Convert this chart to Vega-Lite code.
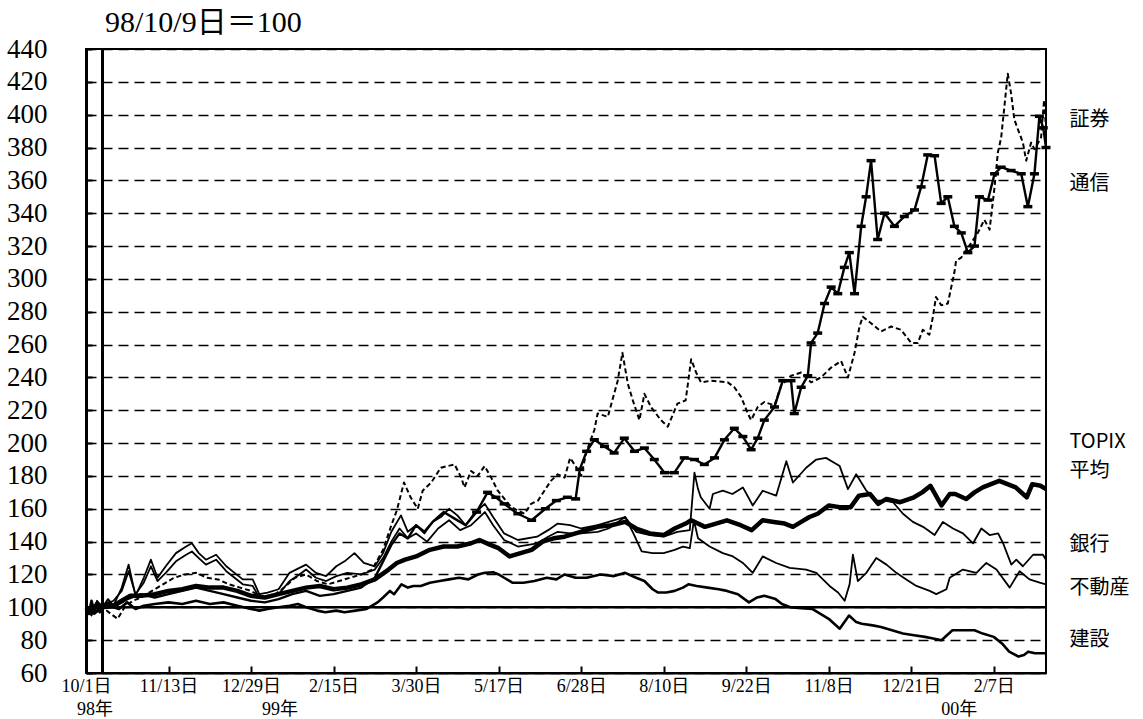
{
 "$schema": "https://vega.github.io/schema/vega-lite/v6.json",
 "width": 960, "height": 624,
 "autosize": "none",
 "padding": {"left": 86, "top": 49, "right": 97, "bottom": 46},
 "background": "white",
 "config": {"view": {"stroke": "black", "strokeWidth": 2}},
 "title": {"text": "98/10/9日＝100", "anchor": "start", "frame": "group", "dx": 19, "offset": -3, "fontSize": 30, "fontWeight": "normal", "font": "Liberation Serif, Noto Sans CJK JP", "color": "black"},
 "datasets": {
  "ref": [{"d": 6, "v": 100}],
  "labels": [{"t": "証券", "v": 397}, {"t": "通信", "v": 358}, {"t": "TOPIX", "v": 200.5}, {"t": "平均", "v": 183}, {"t": "銀行", "v": 138}, {"t": "不動産", "v": 112}, {"t": "建設", "v": 80}],
  "years": [{"t": "98年", "d": 3.3}, {"t": "99年", "d": 70.5}, {"t": "00年", "d": 317.5}],
  "series": [
{"s":"建設","d":0,"v":102},{"s":"建設","d":1,"v":96},{"s":"建設","d":2,"v":104},{"s":"建設","d":3,"v":98},{"s":"建設","d":4,"v":101},{"s":"建設","d":5,"v":97},{"s":"建設","d":6,"v":100},{"s":"建設","d":8,"v":103},{"s":"建設","d":10,"v":100},{"s":"建設","d":12,"v":99},{"s":"建設","d":15,"v":103},{"s":"建設","d":18,"v":99},{"s":"建設","d":21,"v":101},{"s":"建設","d":25,"v":102},{"s":"建設","d":30,"v":103},{"s":"建設","d":35,"v":102},{"s":"建設","d":40,"v":104},{"s":"建設","d":45,"v":102},{"s":"建設","d":50,"v":103},{"s":"建設","d":55,"v":101},{"s":"建設","d":60,"v":99},{"s":"建設","d":63,"v":98},{"s":"建設","d":66,"v":99},{"s":"建設","d":70,"v":100},{"s":"建設","d":74,"v":101},{"s":"建設","d":77,"v":102},{"s":"建設","d":80,"v":100},{"s":"建設","d":84,"v":98},{"s":"建設","d":87,"v":97},{"s":"建設","d":91,"v":98},{"s":"建設","d":94,"v":97},{"s":"建設","d":98,"v":98},{"s":"建設","d":102,"v":99},{"s":"建設","d":104,"v":101},{"s":"建設","d":106,"v":103},{"s":"建設","d":108,"v":106},{"s":"建設","d":110.5,"v":110},{"s":"建設","d":112,"v":108},{"s":"建設","d":114.7,"v":114},{"s":"建設","d":117,"v":112},{"s":"建設","d":119,"v":113},{"s":"建設","d":121.7,"v":113},{"s":"建設","d":125,"v":115},{"s":"建設","d":128.6,"v":116},{"s":"建設","d":132,"v":117},{"s":"建設","d":135.6,"v":118},{"s":"建設","d":139,"v":117},{"s":"建設","d":142.5,"v":120},{"s":"建設","d":145,"v":121},{"s":"建設","d":148,"v":121.4},{"s":"建設","d":150,"v":120},{"s":"建設","d":152,"v":118},{"s":"建設","d":155,"v":115},{"s":"建設","d":159,"v":115},{"s":"建設","d":163,"v":116},{"s":"建設","d":167.5,"v":118},{"s":"建設","d":171,"v":117},{"s":"建設","d":174,"v":120},{"s":"建設","d":178,"v":118},{"s":"建設","d":182,"v":118},{"s":"建設","d":187,"v":120},{"s":"建設","d":192,"v":119},{"s":"建設","d":196,"v":121},{"s":"建設","d":200,"v":118},{"s":"建設","d":203,"v":116},{"s":"建設","d":206,"v":111},{"s":"建設","d":208,"v":109},{"s":"建設","d":211,"v":109},{"s":"建設","d":214,"v":110},{"s":"建設","d":217,"v":112},{"s":"建設","d":219,"v":114},{"s":"建設","d":222,"v":113},{"s":"建設","d":226,"v":112},{"s":"建設","d":230,"v":111},{"s":"建設","d":233,"v":110},{"s":"建設","d":237,"v":108},{"s":"建設","d":241,"v":103},{"s":"建設","d":244,"v":106},{"s":"建設","d":246.6,"v":107},{"s":"建設","d":250.7,"v":105},{"s":"建設","d":253,"v":102},{"s":"建設","d":256,"v":100},{"s":"建設","d":260,"v":99.5},{"s":"建設","d":264,"v":99},{"s":"建設","d":267,"v":96},{"s":"建設","d":270,"v":93},{"s":"建設","d":274,"v":87},{"s":"建設","d":277.4,"v":95},{"s":"建設","d":280,"v":91},{"s":"建設","d":282,"v":90},{"s":"建設","d":286,"v":89},{"s":"建設","d":289,"v":88},{"s":"建設","d":293,"v":86},{"s":"建設","d":297,"v":84},{"s":"建設","d":301,"v":83},{"s":"建設","d":305,"v":82},{"s":"建設","d":308,"v":81},{"s":"建設","d":311,"v":80},{"s":"建設","d":313,"v":83},{"s":"建設","d":315,"v":86},{"s":"建設","d":319,"v":86},{"s":"建設","d":323,"v":86},{"s":"建設","d":326,"v":84},{"s":"建設","d":330,"v":82},{"s":"建設","d":333,"v":78},{"s":"建設","d":335.6,"v":73},{"s":"建設","d":339,"v":70},{"s":"建設","d":341,"v":71},{"s":"建設","d":342.5,"v":73},{"s":"建設","d":345,"v":72},{"s":"建設","d":349,"v":72},
{"s":"TOPIX","d":0,"v":100},{"s":"TOPIX","d":2,"v":97},{"s":"TOPIX","d":4,"v":102},{"s":"TOPIX","d":6,"v":100},{"s":"TOPIX","d":10,"v":101},{"s":"TOPIX","d":13,"v":104},{"s":"TOPIX","d":16,"v":107},{"s":"TOPIX","d":20,"v":107},{"s":"TOPIX","d":25,"v":108},{"s":"TOPIX","d":30,"v":110},{"s":"TOPIX","d":35,"v":111},{"s":"TOPIX","d":40,"v":113},{"s":"TOPIX","d":45,"v":112},{"s":"TOPIX","d":50,"v":112},{"s":"TOPIX","d":55,"v":110},{"s":"TOPIX","d":60,"v":107},{"s":"TOPIX","d":65,"v":106},{"s":"TOPIX","d":70,"v":108},{"s":"TOPIX","d":75,"v":110},{"s":"TOPIX","d":80,"v":112},{"s":"TOPIX","d":85,"v":113},{"s":"TOPIX","d":90,"v":111},{"s":"TOPIX","d":95,"v":112},{"s":"TOPIX","d":100,"v":114},{"s":"TOPIX","d":105,"v":117},{"s":"TOPIX","d":110,"v":123},{"s":"TOPIX","d":113,"v":127},{"s":"TOPIX","d":116,"v":129},{"s":"TOPIX","d":120,"v":131},{"s":"TOPIX","d":125,"v":135},{"s":"TOPIX","d":130,"v":137},{"s":"TOPIX","d":135,"v":137},{"s":"TOPIX","d":140,"v":139},{"s":"TOPIX","d":143,"v":141},{"s":"TOPIX","d":147,"v":138},{"s":"TOPIX","d":150,"v":136},{"s":"TOPIX","d":154,"v":131},{"s":"TOPIX","d":158,"v":133},{"s":"TOPIX","d":162,"v":135},{"s":"TOPIX","d":166,"v":140},{"s":"TOPIX","d":170,"v":142},{"s":"TOPIX","d":174,"v":143},{"s":"TOPIX","d":178,"v":145},{"s":"TOPIX","d":182,"v":147},{"s":"TOPIX","d":186,"v":149},{"s":"TOPIX","d":191,"v":150},{"s":"TOPIX","d":196,"v":152},{"s":"TOPIX","d":200,"v":148},{"s":"TOPIX","d":205,"v":145},{"s":"TOPIX","d":210,"v":144},{"s":"TOPIX","d":214,"v":148},{"s":"TOPIX","d":218,"v":151},{"s":"TOPIX","d":220,"v":153},{"s":"TOPIX","d":225,"v":149},{"s":"TOPIX","d":229,"v":151},{"s":"TOPIX","d":233,"v":153},{"s":"TOPIX","d":238,"v":150},{"s":"TOPIX","d":242,"v":147},{"s":"TOPIX","d":246,"v":153},{"s":"TOPIX","d":250,"v":152},{"s":"TOPIX","d":254,"v":151},{"s":"TOPIX","d":257,"v":149},{"s":"TOPIX","d":260,"v":152},{"s":"TOPIX","d":263,"v":155},{"s":"TOPIX","d":266,"v":157},{"s":"TOPIX","d":270,"v":162},{"s":"TOPIX","d":274,"v":161},{"s":"TOPIX","d":278,"v":161},{"s":"TOPIX","d":281,"v":168},{"s":"TOPIX","d":285,"v":169},{"s":"TOPIX","d":288,"v":163},{"s":"TOPIX","d":291,"v":166},{"s":"TOPIX","d":296,"v":164},{"s":"TOPIX","d":301,"v":167},{"s":"TOPIX","d":304,"v":170},{"s":"TOPIX","d":307,"v":174},{"s":"TOPIX","d":309,"v":168},{"s":"TOPIX","d":311,"v":162},{"s":"TOPIX","d":314,"v":169},{"s":"TOPIX","d":316,"v":169},{"s":"TOPIX","d":320,"v":166},{"s":"TOPIX","d":323,"v":170},{"s":"TOPIX","d":326,"v":173},{"s":"TOPIX","d":329,"v":175},{"s":"TOPIX","d":332,"v":177},{"s":"TOPIX","d":335,"v":175},{"s":"TOPIX","d":338,"v":173},{"s":"TOPIX","d":342,"v":167},{"s":"TOPIX","d":344,"v":175},{"s":"TOPIX","d":347,"v":174},{"s":"TOPIX","d":349,"v":172},
{"s":"銀行","d":0,"v":100},{"s":"銀行","d":2,"v":95},{"s":"銀行","d":4,"v":104},{"s":"銀行","d":6,"v":100},{"s":"銀行","d":8,"v":105},{"s":"銀行","d":10,"v":101},{"s":"銀行","d":13,"v":112},{"s":"銀行","d":15.5,"v":126},{"s":"銀行","d":18,"v":107},{"s":"銀行","d":21,"v":118},{"s":"銀行","d":23.6,"v":129},{"s":"銀行","d":26,"v":118},{"s":"銀行","d":29,"v":125},{"s":"銀行","d":32.7,"v":133},{"s":"銀行","d":36.4,"v":137},{"s":"銀行","d":38.5,"v":139},{"s":"銀行","d":41,"v":133},{"s":"銀行","d":43.6,"v":129},{"s":"銀行","d":47.3,"v":132},{"s":"銀行","d":51,"v":125},{"s":"銀行","d":54,"v":121},{"s":"銀行","d":57,"v":117},{"s":"銀行","d":60.6,"v":117},{"s":"銀行","d":63,"v":108},{"s":"銀行","d":66,"v":109},{"s":"銀行","d":70,"v":111},{"s":"銀行","d":74,"v":121},{"s":"銀行","d":77.6,"v":124},{"s":"銀行","d":80,"v":126},{"s":"銀行","d":83.6,"v":121},{"s":"銀行","d":87.3,"v":119},{"s":"銀行","d":91,"v":125},{"s":"銀行","d":94,"v":128},{"s":"銀行","d":97.6,"v":133},{"s":"銀行","d":101,"v":127},{"s":"銀行","d":105,"v":125},{"s":"銀行","d":108,"v":133},{"s":"銀行","d":111,"v":146},{"s":"銀行","d":114.5,"v":156},{"s":"銀行","d":117,"v":146},{"s":"銀行","d":120,"v":150},{"s":"銀行","d":123,"v":145},{"s":"銀行","d":126,"v":152},{"s":"銀行","d":129,"v":155},{"s":"銀行","d":132,"v":160},{"s":"銀行","d":135,"v":156},{"s":"銀行","d":138,"v":150},{"s":"銀行","d":141,"v":157},{"s":"銀行","d":145,"v":163},{"s":"銀行","d":148,"v":155},{"s":"銀行","d":152,"v":145},{"s":"銀行","d":157,"v":141},{"s":"銀行","d":164,"v":143},{"s":"銀行","d":168,"v":147},{"s":"銀行","d":171.5,"v":151},{"s":"銀行","d":176,"v":150},{"s":"銀行","d":180,"v":148},{"s":"銀行","d":186,"v":150},{"s":"銀行","d":190,"v":152},{"s":"銀行","d":196,"v":155},{"s":"銀行","d":200,"v":146},{"s":"銀行","d":205,"v":144},{"s":"銀行","d":210,"v":143},{"s":"銀行","d":215,"v":146},{"s":"銀行","d":219.5,"v":147},{"s":"銀行","d":221.2,"v":182},{"s":"銀行","d":222.5,"v":172},{"s":"銀行","d":223.5,"v":167},{"s":"銀行","d":226.7,"v":160},{"s":"銀行","d":227.9,"v":169},{"s":"銀行","d":231.5,"v":171},{"s":"銀行","d":235,"v":169},{"s":"銀行","d":238.8,"v":173},{"s":"銀行","d":242.4,"v":162},{"s":"銀行","d":246,"v":171},{"s":"銀行","d":250.9,"v":168},{"s":"銀行","d":254.6,"v":189},{"s":"銀行","d":257,"v":176},{"s":"銀行","d":261.8,"v":185},{"s":"銀行","d":265.5,"v":190},{"s":"銀行","d":269,"v":191},{"s":"銀行","d":272,"v":188},{"s":"銀行","d":274,"v":186},{"s":"銀行","d":277,"v":172},{"s":"銀行","d":280,"v":181},{"s":"銀行","d":283.7,"v":171},{"s":"銀行","d":287.3,"v":165},{"s":"銀行","d":290,"v":165},{"s":"銀行","d":293.4,"v":164},{"s":"銀行","d":297,"v":157},{"s":"銀行","d":300.6,"v":152},{"s":"銀行","d":304.3,"v":149},{"s":"銀行","d":308.5,"v":144},{"s":"銀行","d":311.5,"v":152},{"s":"銀行","d":315.2,"v":148},{"s":"銀行","d":318.8,"v":145},{"s":"銀行","d":322.5,"v":139},{"s":"銀行","d":325.5,"v":148},{"s":"銀行","d":328.5,"v":144},{"s":"銀行","d":331.6,"v":145},{"s":"銀行","d":333.4,"v":139},{"s":"銀行","d":336.4,"v":126},{"s":"銀行","d":338.2,"v":129},{"s":"銀行","d":340.6,"v":125},{"s":"銀行","d":344.3,"v":132},{"s":"銀行","d":347.9,"v":132},{"s":"銀行","d":349,"v":129},
{"s":"不動産","d":0,"v":100},{"s":"不動産","d":3,"v":97},{"s":"不動産","d":6,"v":101},{"s":"不動産","d":10,"v":104},{"s":"不動産","d":13,"v":110},{"s":"不動産","d":15.5,"v":122},{"s":"不動産","d":18,"v":108},{"s":"不動産","d":21,"v":115},{"s":"不動産","d":23.6,"v":125},{"s":"不動産","d":26,"v":116},{"s":"不動産","d":29,"v":121},{"s":"不動産","d":32.7,"v":128},{"s":"不動産","d":36.4,"v":132},{"s":"不動産","d":38.5,"v":134},{"s":"不動産","d":41,"v":130},{"s":"不動産","d":43.6,"v":126},{"s":"不動産","d":47.3,"v":129},{"s":"不動産","d":51,"v":122},{"s":"不動産","d":54,"v":118},{"s":"不動産","d":57,"v":114},{"s":"不動産","d":60.6,"v":113},{"s":"不動産","d":63,"v":106},{"s":"不動産","d":66,"v":106},{"s":"不動産","d":70,"v":108},{"s":"不動産","d":74,"v":116},{"s":"不動産","d":77.6,"v":120},{"s":"不動産","d":80,"v":123},{"s":"不動産","d":83.6,"v":118},{"s":"不動産","d":87.3,"v":116},{"s":"不動産","d":91,"v":119},{"s":"不動産","d":95,"v":121},{"s":"不動産","d":100,"v":120},{"s":"不動産","d":105,"v":123},{"s":"不動産","d":108,"v":130},{"s":"不動産","d":111,"v":140},{"s":"不動産","d":114,"v":148},{"s":"不動産","d":117,"v":142},{"s":"不動産","d":120,"v":145},{"s":"不動産","d":124,"v":140},{"s":"不動産","d":128,"v":148},{"s":"不動産","d":132,"v":153},{"s":"不動産","d":136,"v":147},{"s":"不動産","d":140,"v":150},{"s":"不動産","d":145,"v":158},{"s":"不動産","d":148,"v":150},{"s":"不動産","d":152,"v":141},{"s":"不動産","d":157,"v":137},{"s":"不動産","d":164,"v":139},{"s":"不動産","d":168,"v":143},{"s":"不動産","d":171.5,"v":146},{"s":"不動産","d":176,"v":145},{"s":"不動産","d":180,"v":145},{"s":"不動産","d":186,"v":146},{"s":"不動産","d":190,"v":148},{"s":"不動産","d":196,"v":155},{"s":"不動産","d":199,"v":145},{"s":"不動産","d":202,"v":134},{"s":"不動産","d":206,"v":133},{"s":"不動産","d":210,"v":133},{"s":"不動産","d":214,"v":135},{"s":"不動産","d":217,"v":137},{"s":"不動産","d":219.5,"v":136},{"s":"不動産","d":221,"v":153},{"s":"不動産","d":222.5,"v":142},{"s":"不動産","d":226.7,"v":137},{"s":"不動産","d":231.5,"v":133},{"s":"不動産","d":235.2,"v":131},{"s":"不動産","d":238.8,"v":127},{"s":"不動産","d":242.4,"v":121},{"s":"不動産","d":246,"v":131},{"s":"不動産","d":250.9,"v":127},{"s":"不動産","d":255.8,"v":124},{"s":"不動産","d":261.8,"v":123},{"s":"不動産","d":265.5,"v":121},{"s":"不動産","d":270.3,"v":113},{"s":"不動産","d":273.4,"v":109},{"s":"不動産","d":275.8,"v":104},{"s":"不動産","d":277.6,"v":114},{"s":"不動産","d":278.8,"v":132},{"s":"不動産","d":280.6,"v":116},{"s":"不動産","d":283.7,"v":121},{"s":"不動産","d":287.3,"v":130},{"s":"不動産","d":291,"v":126},{"s":"不動産","d":294.6,"v":121},{"s":"不動産","d":298.2,"v":117},{"s":"不動産","d":301.9,"v":113},{"s":"不動産","d":306.7,"v":110},{"s":"不動産","d":309.1,"v":108},{"s":"不動産","d":312.8,"v":111},{"s":"不動産","d":314,"v":118},{"s":"不動産","d":318.8,"v":123},{"s":"不動産","d":323.7,"v":121},{"s":"不動産","d":327.3,"v":127},{"s":"不動産","d":331,"v":123},{"s":"不動産","d":335.8,"v":112},{"s":"不動産","d":339.4,"v":122},{"s":"不動産","d":343,"v":117},{"s":"不動産","d":346.7,"v":115},{"s":"不動産","d":349,"v":114},
{"s":"通信","d":0,"v":100},{"s":"通信","d":3,"v":96},{"s":"通信","d":6,"v":100},{"s":"通信","d":10,"v":100},{"s":"通信","d":15,"v":105},{"s":"通信","d":20,"v":108},{"s":"通信","d":25,"v":106},{"s":"通信","d":30,"v":108},{"s":"通信","d":35,"v":110},{"s":"通信","d":40,"v":112},{"s":"通信","d":45,"v":110},{"s":"通信","d":50,"v":108},{"s":"通信","d":55,"v":106},{"s":"通信","d":60,"v":104},{"s":"通信","d":65,"v":103},{"s":"通信","d":70,"v":105},{"s":"通信","d":75,"v":108},{"s":"通信","d":80,"v":110},{"s":"通信","d":85,"v":107},{"s":"通信","d":90,"v":108},{"s":"通信","d":95,"v":110},{"s":"通信","d":100,"v":112},{"s":"通信","d":105,"v":118},{"s":"通信","d":108,"v":128},{"s":"通信","d":111,"v":138},{"s":"通信","d":114,"v":145},{"s":"通信","d":117,"v":142},{"s":"通信","d":120,"v":150},{"s":"通信","d":123,"v":146},{"s":"通信","d":126,"v":152},{"s":"通信","d":130,"v":158},{"s":"通信","d":134,"v":154},{"s":"通信","d":138,"v":150},{"s":"通信","d":142,"v":158},{"s":"通信","d":146,"v":170},{"s":"通信","d":149,"v":167},{"s":"通信","d":152,"v":163},{"s":"通信","d":157,"v":157},{"s":"通信","d":162,"v":153},{"s":"通信","d":167,"v":160},{"s":"通信","d":171,"v":165},{"s":"通信","d":175,"v":167},{"s":"通信","d":178,"v":166},{"s":"通信","d":179.5,"v":184},{"s":"通信","d":182,"v":195},{"s":"通信","d":184.8,"v":202},{"s":"通信","d":188.5,"v":198},{"s":"通信","d":192,"v":194},{"s":"通信","d":195.7,"v":203},{"s":"通信","d":199.4,"v":195},{"s":"通信","d":203,"v":197},{"s":"通信","d":206.6,"v":190},{"s":"通信","d":210.3,"v":182},{"s":"通信","d":213.9,"v":182},{"s":"通信","d":217.5,"v":191},{"s":"通信","d":221.2,"v":190},{"s":"通信","d":224.8,"v":187},{"s":"通信","d":228.5,"v":191},{"s":"通信","d":232.1,"v":202},{"s":"通信","d":235.7,"v":209},{"s":"通信","d":238.8,"v":204},{"s":"通信","d":241.8,"v":196},{"s":"通信","d":244.2,"v":203},{"s":"通信","d":246.6,"v":214},{"s":"通信","d":250.3,"v":222},{"s":"通信","d":253.3,"v":238},{"s":"通信","d":256.3,"v":238},{"s":"通信","d":257.5,"v":218},{"s":"通信","d":260,"v":234},{"s":"通信","d":262.4,"v":241},{"s":"通信","d":263.6,"v":261},{"s":"通信","d":266,"v":267},{"s":"通信","d":268.5,"v":285},{"s":"通信","d":270.9,"v":295},{"s":"通信","d":273.3,"v":291},{"s":"通信","d":275.7,"v":307},{"s":"通信","d":277.5,"v":316},{"s":"通信","d":279.4,"v":291},{"s":"通信","d":281.8,"v":332},{"s":"通信","d":283.6,"v":350},{"s":"通信","d":285.4,"v":372},{"s":"通信","d":287.8,"v":324},{"s":"通信","d":290.3,"v":340},{"s":"通信","d":293.9,"v":332},{"s":"通信","d":297.5,"v":338},{"s":"通信","d":301.2,"v":342},{"s":"通信","d":303.6,"v":356},{"s":"通信","d":306,"v":375.5},{"s":"通信","d":308.5,"v":375},{"s":"通信","d":310.9,"v":346},{"s":"通信","d":313.3,"v":350},{"s":"通信","d":315.7,"v":332},{"s":"通信","d":318.2,"v":328},{"s":"通信","d":320.6,"v":316},{"s":"通信","d":323,"v":320},{"s":"通信","d":324.8,"v":350},{"s":"通信","d":327.9,"v":348},{"s":"通信","d":330.3,"v":364},{"s":"通信","d":332.7,"v":368},{"s":"通信","d":336.3,"v":366},{"s":"通信","d":340,"v":364},{"s":"通信","d":342.4,"v":344},{"s":"通信","d":344.8,"v":364},{"s":"通信","d":346.6,"v":399},{"s":"通信","d":348,"v":392},{"s":"通信","d":349,"v":380},
{"s":"証券","d":0,"v":100},{"s":"証券","d":3,"v":97},{"s":"証券","d":6,"v":100},{"s":"証券","d":9,"v":96},{"s":"証券","d":11.5,"v":93},{"s":"証券","d":14,"v":100},{"s":"証券","d":17,"v":104},{"s":"証券","d":20,"v":106},{"s":"証券","d":24,"v":110},{"s":"証券","d":28,"v":114},{"s":"証券","d":32,"v":118},{"s":"証券","d":36,"v":120},{"s":"証券","d":40,"v":121},{"s":"証券","d":44,"v":118},{"s":"証券","d":48,"v":117},{"s":"証券","d":52,"v":114},{"s":"証券","d":56,"v":112},{"s":"証券","d":60,"v":110},{"s":"証券","d":64,"v":106},{"s":"証券","d":68,"v":107},{"s":"証券","d":72,"v":112},{"s":"証券","d":76,"v":118},{"s":"証券","d":80,"v":120},{"s":"証券","d":84,"v":116},{"s":"証券","d":88,"v":114},{"s":"証券","d":92,"v":116},{"s":"証券","d":96,"v":118},{"s":"証券","d":100,"v":120},{"s":"証券","d":104,"v":123},{"s":"証券","d":108,"v":135},{"s":"証券","d":111,"v":150},{"s":"証券","d":113,"v":159},{"s":"証券","d":115.6,"v":176},{"s":"証券","d":118,"v":167},{"s":"証券","d":120.6,"v":160},{"s":"証券","d":122.4,"v":171},{"s":"証券","d":125.5,"v":176},{"s":"証券","d":129,"v":185},{"s":"証券","d":134,"v":187},{"s":"証券","d":136.4,"v":179},{"s":"証券","d":137.6,"v":173},{"s":"証券","d":140,"v":183},{"s":"証券","d":142.4,"v":180},{"s":"証券","d":144.9,"v":186},{"s":"証券","d":147.3,"v":179},{"s":"証券","d":149.7,"v":171},{"s":"証券","d":154.6,"v":161},{"s":"証券","d":159.4,"v":157},{"s":"証券","d":161.8,"v":163},{"s":"証券","d":164.3,"v":165},{"s":"証券","d":169,"v":177},{"s":"証券","d":171.5,"v":181},{"s":"証券","d":174,"v":179},{"s":"証券","d":176,"v":191},{"s":"証券","d":178,"v":186},{"s":"証券","d":180,"v":180},{"s":"証券","d":182,"v":195},{"s":"証券","d":184.8,"v":208},{"s":"証券","d":186,"v":218},{"s":"証券","d":189.7,"v":216},{"s":"証券","d":193.3,"v":238},{"s":"証券","d":195,"v":255},{"s":"証券","d":197,"v":236},{"s":"証券","d":198.8,"v":226},{"s":"証券","d":201.2,"v":214},{"s":"証券","d":203,"v":230},{"s":"証券","d":205.4,"v":222},{"s":"証券","d":209,"v":214},{"s":"証券","d":211.5,"v":210},{"s":"証券","d":215,"v":224},{"s":"証券","d":218,"v":226},{"s":"証券","d":220,"v":251},{"s":"証券","d":221.8,"v":243},{"s":"証券","d":223.6,"v":237},{"s":"証券","d":227.2,"v":238},{"s":"証券","d":233.3,"v":237},{"s":"証券","d":235.7,"v":234},{"s":"証券","d":238.2,"v":228},{"s":"証券","d":240.6,"v":218},{"s":"証券","d":241.8,"v":214},{"s":"証券","d":244.2,"v":222},{"s":"証券","d":246.6,"v":225},{"s":"証券","d":250.3,"v":223},{"s":"証券","d":252.7,"v":235},{"s":"証券","d":256.3,"v":241},{"s":"証券","d":260,"v":243},{"s":"証券","d":263.6,"v":237},{"s":"証券","d":267.2,"v":240},{"s":"証券","d":270.9,"v":246},{"s":"証券","d":274.5,"v":250},{"s":"証券","d":277,"v":240},{"s":"証券","d":279.4,"v":255},{"s":"証券","d":281.2,"v":271},{"s":"証券","d":282.4,"v":277},{"s":"証券","d":285.4,"v":273},{"s":"証券","d":289,"v":268},{"s":"証券","d":292.7,"v":271},{"s":"証券","d":296.3,"v":269},{"s":"証券","d":300,"v":261},{"s":"証券","d":302.4,"v":261},{"s":"証券","d":304.2,"v":269},{"s":"証券","d":306.6,"v":266},{"s":"証券","d":307.9,"v":277},{"s":"証券","d":309,"v":289},{"s":"証券","d":310.9,"v":284},{"s":"証券","d":313.3,"v":285},{"s":"証券","d":315.7,"v":304},{"s":"証券","d":316.3,"v":311},{"s":"証券","d":318.2,"v":313},{"s":"証券","d":320.6,"v":319},{"s":"証券","d":324.2,"v":328},{"s":"証券","d":326.6,"v":336},{"s":"証券","d":328.5,"v":330},{"s":"証券","d":330.3,"v":356},{"s":"証券","d":331.5,"v":377},{"s":"証券","d":332.7,"v":386},{"s":"証券","d":334,"v":407},{"s":"証券","d":335.1,"v":425},{"s":"証券","d":336.3,"v":413},{"s":"証券","d":337.5,"v":397},{"s":"証券","d":338.8,"v":391},{"s":"証券","d":340.6,"v":383},{"s":"証券","d":341.8,"v":372},{"s":"証券","d":343.6,"v":383},{"s":"証券","d":344.8,"v":379},{"s":"証券","d":347.2,"v":386},{"s":"証券","d":348.3,"v":409},{"s":"証券","d":349,"v":392}
  ]
 },
 "layer": [
  {
   "data": {"name": "ref"},
   "mark": {"type": "rule", "color": "black", "strokeWidth": 2.5},
   "encoding": {
    "y": {"field": "v", "type": "quantitative", "scale": {"domain": [60, 440], "nice": false, "zero": false},
     "axis": {"values": [60,80,100,120,140,160,180,200,220,240,260,280,300,320,340,360,380,400,420,440], "tickCount": 40, "title": null, "grid": true, "gridColor": "black", "gridDash": [10, 6], "gridWidth": 1.5, "gridOpacity": 1, "domain": true, "domainColor": "black", "domainWidth": 3, "ticks": true, "tickColor": "black", "tickWidth": 2, "tickSize": -6, "labelOverlap": false, "labelFont": "Liberation Serif", "labelFontSize": 27, "labelColor": "black", "labelPadding": 45}}
   }
  },
  {
   "data": {"name": "ref"},
   "mark": {"type": "rule", "color": "black", "strokeWidth": 3},
   "encoding": {
    "x": {"field": "d", "type": "quantitative", "scale": {"domain": [0, 349], "nice": false, "zero": false},
     "axis": {"values": [0,30,60,90,120,150,180,210,240,270,300,330], "tickCount": 40, "title": null, "grid": false, "domain": true, "domainColor": "black", "domainWidth": 2, "ticks": true, "tickColor": "black", "tickWidth": 2, "tickSize": -7, "labelFlush": false, "labelOverlap": false, "labelFont": "Liberation Serif, Noto Sans CJK JP", "labelFontSize": 18, "labelColor": "black", "labelPadding": 11,
      "labelExpr": "['10/1日','11/13日','12/29日','2/15日','3/30日','5/17日','6/28日','8/10日','9/22日','11/8日','12/21日','2/7日'][round(datum.value/30)]"}}
   }
  },
  {
   "data": {"name": "series"},
   "transform": [{"filter": "datum.s === '建設'"}],
   "mark": {"type": "line", "color": "black", "strokeWidth": 2.6, "strokeJoin": "round"},
   "encoding": {"x": {"field": "d", "type": "quantitative"}, "y": {"field": "v", "type": "quantitative"}}
  },
  {
   "data": {"name": "series"},
   "transform": [{"filter": "datum.s === '不動産'"}],
   "mark": {"type": "line", "color": "black", "strokeWidth": 1.8, "strokeJoin": "round"},
   "encoding": {"x": {"field": "d", "type": "quantitative"}, "y": {"field": "v", "type": "quantitative"}}
  },
  {
   "data": {"name": "series"},
   "transform": [{"filter": "datum.s === '銀行'"}],
   "mark": {"type": "line", "color": "black", "strokeWidth": 1.8, "strokeJoin": "round"},
   "encoding": {"x": {"field": "d", "type": "quantitative"}, "y": {"field": "v", "type": "quantitative"}}
  },
  {
   "data": {"name": "series"},
   "transform": [{"filter": "datum.s === 'TOPIX'"}],
   "mark": {"type": "line", "color": "black", "strokeWidth": 4.5, "strokeJoin": "round"},
   "encoding": {"x": {"field": "d", "type": "quantitative"}, "y": {"field": "v", "type": "quantitative"}}
  },
  {
   "data": {"name": "series"},
   "transform": [{"filter": "datum.s === '通信'"}],
   "mark": {"type": "line", "color": "black", "strokeWidth": 2.4, "strokeJoin": "round"},
   "encoding": {"x": {"field": "d", "type": "quantitative"}, "y": {"field": "v", "type": "quantitative"}}
  },
  {
   "data": {"name": "series"},
   "transform": [{"filter": "datum.s === '通信' && datum.d >= 140"}],
   "mark": {"type": "tick", "orient": "horizontal", "color": "black", "size": 9, "thickness": 3.5, "opacity": 1},
   "encoding": {"x": {"field": "d", "type": "quantitative"}, "y": {"field": "v", "type": "quantitative"}}
  },
  {
   "data": {"name": "series"},
   "transform": [{"filter": "datum.s === '証券'"}],
   "mark": {"type": "line", "color": "black", "strokeWidth": 2, "strokeDash": [5, 3], "strokeJoin": "round"},
   "encoding": {"x": {"field": "d", "type": "quantitative"}, "y": {"field": "v", "type": "quantitative"}}
  },
  {
   "data": {"name": "labels"},
   "mark": {"type": "text", "align": "left", "baseline": "middle", "font": "Noto Sans CJK JP", "fontSize": 20, "color": "black", "clip": false},
   "encoding": {"x": {"datum": 357.5, "type": "quantitative"}, "y": {"field": "v", "type": "quantitative"}, "text": {"field": "t"}}
  },
  {
   "data": {"name": "years"},
   "mark": {"type": "text", "align": "center", "baseline": "middle", "font": "Liberation Serif, Noto Sans CJK JP", "fontSize": 18, "color": "black", "clip": false},
   "encoding": {"x": {"field": "d", "type": "quantitative"}, "y": {"datum": 37.5, "type": "quantitative"}, "text": {"field": "t"}}
  }
 ]
}
